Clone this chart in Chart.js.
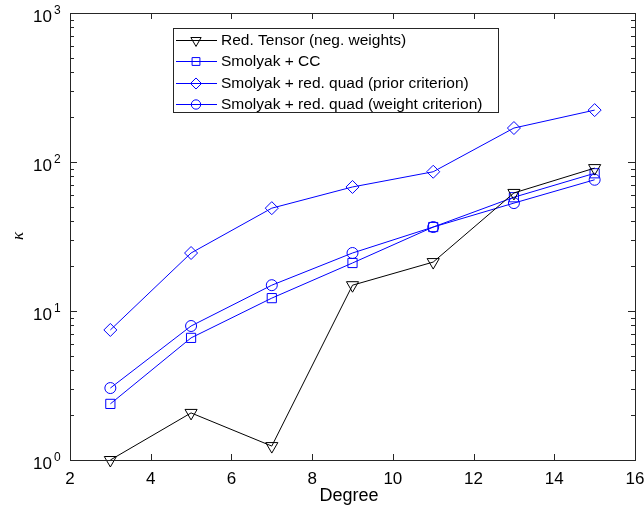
<!DOCTYPE html>
<html>
<head>
<meta charset="utf-8">
<script src="https://cdn.jsdelivr.net/npm/chart.js@4.4.1/dist/chart.umd.min.js"></script>
<style>
    body { margin: 0; background: white; }
    canvas { display: block; }
</style>
</head>
<body>
<canvas id="kappa" width="644" height="516"></canvas>
<script>
// podatki, odcitani s slike
const stopnje = [3, 5, 7, 9, 11, 13, 15];
const red_tensor = [1.0, 2.07, 1.24, 14.9, 21.3, 62, 91];
const smolyak_cc = [2.38, 6.6, 12.2, 21.0, 36.6, 58, 84];
const smolyak_prior = [7.46, 24.5, 49, 68, 86, 169, 223];
const smolyak_utezi = [3.04, 7.93, 14.9, 24.5, 36.6, 53, 76];
const oznake_x = [2, 4, 6, 8, 10, 12, 14, 16];
const eksponenti_y = [0, 1, 2, 3];
const imena = [
    'Red. Tensor (neg. weights)',
    'Smolyak + CC',
    'Smolyak + red. quad (prior criterion)',
    'Smolyak + red. quad (weight criterion)'
];
const naslov_x = 'Degree';
const naslov_y = 'κ';

let modra = 'rgb(0, 0, 255)';
let crna = 'rgb(0, 0, 0)';
let barva_osi = 'rgb(38, 38, 38)';
let font = 'Liberation Sans';
let debelina = 1;

function tocke(vrednosti) {
    return stopnje.map((x, i) => ({ x: x, y: vrednosti[i] }));
}

const serije = [
    { ime: imena[0], data: red_tensor, barva: crna, oblika: 'triangle', rotacija: 180, r: 7 },
    { ime: imena[1], data: smolyak_cc, barva: modra, oblika: 'rect', rotacija: 0, r: 6.5 },
    { ime: imena[2], data: smolyak_prior, barva: modra, oblika: 'rectRot', rotacija: 0, r: 6.5 },
    { ime: imena[3], data: smolyak_utezi, barva: modra, oblika: 'circle', rotacija: 0, r: 5.5 }
];

const okvir = {
    id: 'okvir',
    afterDraw(chart) {
        const ctx = chart.ctx;
        const ca = chart.chartArea;
        const sx = chart.scales.x;
        const sy = chart.scales.y;
        ctx.save();
        ctx.strokeStyle = barva_osi;
        ctx.lineWidth = 1;
        ctx.strokeRect(ca.left + 0.5, ca.top + 0.5, ca.right - ca.left, ca.bottom - ca.top);

        // crtice na x osi (znotraj)
        ctx.beginPath();
        for (const v of oznake_x) {
            const px = Math.round(sx.getPixelForValue(v)) + 0.5;
            ctx.moveTo(px, ca.bottom); ctx.lineTo(px, ca.bottom - 6);
            ctx.moveTo(px, ca.top); ctx.lineTo(px, ca.top + 6);
        }
        // crtice na y osi, glavne in pomozne
        for (let d = 0; d < 3; d++) {
            for (let m = 1; m <= 9; m++) {
                const py = Math.round(sy.getPixelForValue(m * Math.pow(10, d))) + 0.5;
                const dolzina = m === 1 ? 7 : 4;
                ctx.moveTo(ca.left, py); ctx.lineTo(ca.left + dolzina, py);
                ctx.moveTo(ca.right, py); ctx.lineTo(ca.right - dolzina, py);
            }
        }
        ctx.stroke();

        // oznake y: 10 na potenco
        ctx.fillStyle = crna;
        for (const e of eksponenti_y) {
            const py = sy.getPixelForValue(Math.pow(10, e));
            ctx.font = '17px ' + font;
            ctx.textAlign = 'right';
            ctx.textBaseline = 'alphabetic';
            ctx.fillText('10', 52, py + 9);
            ctx.font = '12px ' + font;
            ctx.textAlign = 'left';
            ctx.fillText(String(e), 54, py + 1);
        }

        // naslova osi
        ctx.font = '18px ' + font;
        ctx.textAlign = 'center';
        ctx.textBaseline = 'alphabetic';
        ctx.fillText(naslov_x, 349, 501);
        ctx.save();
        ctx.translate(19, 236);
        ctx.rotate(-Math.PI / 2);
        ctx.font = 'italic 17px Liberation Serif';
        ctx.textBaseline = 'middle';
        ctx.fillText(naslov_y, 0, 0);
        ctx.restore();

        // legenda
        const lx = 173, ly = 28, lw = 325, lh = 84;
        ctx.fillStyle = 'white';
        ctx.fillRect(lx, ly, lw, lh);
        ctx.strokeStyle = barva_osi;
        ctx.strokeRect(lx + 0.5, ly + 0.5, lw, lh);
        ctx.font = '15.5px ' + font;
        ctx.textAlign = 'left';
        ctx.textBaseline = 'middle';
        serije.forEach((s, i) => {
            const y = Math.round(40 + i * 21.3) + 0.5;
            ctx.strokeStyle = s.barva;
            ctx.lineWidth = debelina;
            ctx.beginPath();
            ctx.moveTo(176, y);
            ctx.lineTo(217, y);
            ctx.stroke();
            ctx.fillStyle = 'rgba(0,0,0,0)';
            ctx.strokeStyle = s.barva;
            Chart.helpers.drawPoint(ctx, {
                pointStyle: s.oblika, rotation: s.rotacija, radius: s.r * 0.85, borderWidth: debelina
            }, 196, y);
            ctx.fillStyle = crna;
            ctx.fillText(s.ime, 221, y + 0.5);
        });
        ctx.restore();
    }
};

const platno_za_graf = document.getElementById('kappa').getContext('2d');
const graf = new Chart(platno_za_graf, {
    type: 'line',
    data: {
        datasets: serije.map(s => ({
            label: s.ime,
            data: tocke(s.data),
            borderColor: s.barva,
            backgroundColor: 'rgba(0,0,0,0)',
            pointBackgroundColor: 'rgba(0,0,0,0)',
            pointBorderColor: s.barva,
            borderWidth: debelina,
            pointBorderWidth: debelina,
            pointStyle: s.oblika,
            pointRotation: s.rotacija,
            pointRadius: s.r,
            fill: false,
            clip: false,
            tension: 0
        }))
    },
    options: {
        responsive: false,
        animation: false,
        layout: { padding: { top: 13, right: 9, left: 0, bottom: 0 } },
        plugins: {
            legend: { display: false },
            tooltip: { enabled: false }
        },
        scales: {
            x: {
                type: 'linear',
                min: 2,
                max: 16,
                grid: { display: false, drawTicks: false },
                border: { display: false },
                ticks: {
                    stepSize: 2,
                    padding: 9,
                    color: crna,
                    font: { size: 17, family: font },
                    maxRotation: 0
                },
                afterFit(scale) {
                    scale.height = 56;
                    scale.paddingLeft = 0;
                    scale.paddingRight = 0;
                }
            },
            y: {
                type: 'logarithmic',
                min: 1,
                max: 1000,
                grid: { display: false, drawTicks: false },
                border: { display: false },
                ticks: { display: false },
                afterFit(scale) { scale.width = 70; }
            }
        }
    },
    plugins: [okvir]
});
</script>
</body>
</html>
